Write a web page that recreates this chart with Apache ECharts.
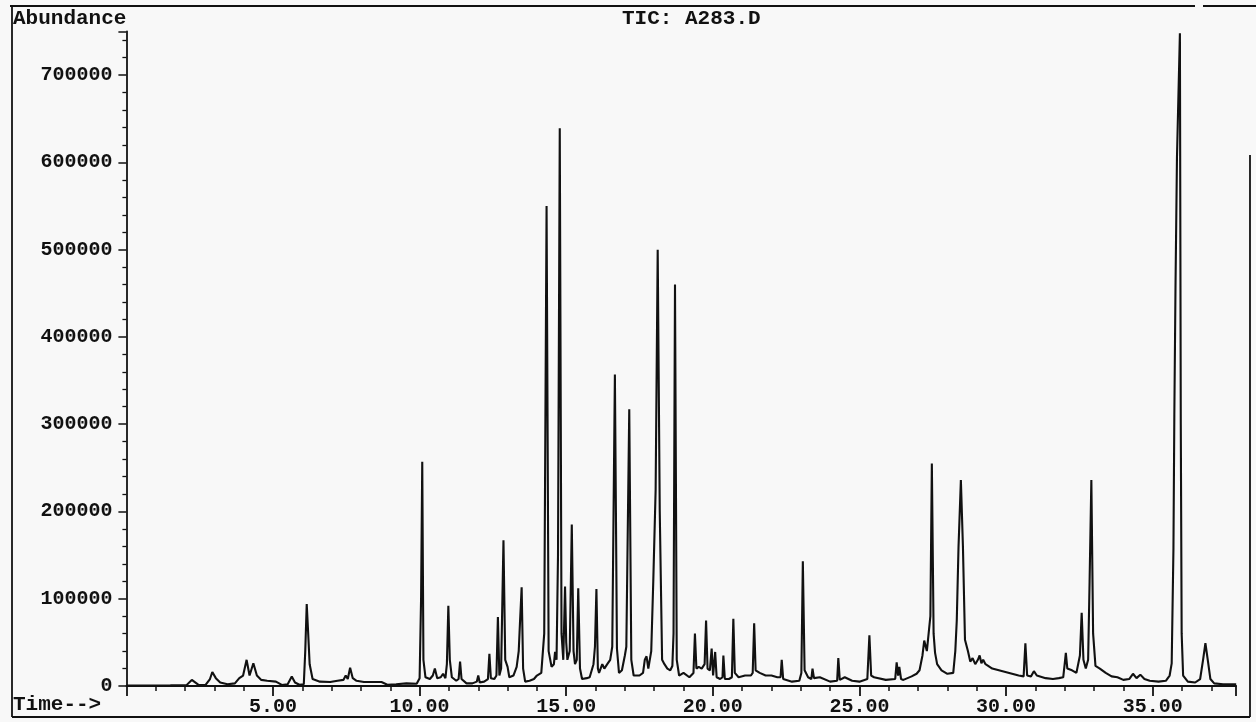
<!DOCTYPE html>
<html>
<head>
<meta charset="utf-8">
<script src="https://cdn.jsdelivr.net/npm/echarts@6/dist/echarts.min.js"></script>
<style>
html,body{margin:0;padding:0;background:#f8f8f8;}
#chart{width:1256px;height:722px;}
</style>
</head>
<body>
<div id="chart"></div>
<script>
// Retention time (minutes)
const times = [
0.00,1.50,2.05,2.23,2.45,2.70,2.85,2.93,3.05,3.20,3.45,3.70,3.85,3.98,4.10,4.20,4.33,4.45,4.60,4.80,
5.10,5.30,5.50,5.64,5.75,5.90,6.05,6.10,6.15,6.20,6.25,6.35,6.60,6.95,7.20,7.40,7.48,7.55,7.63,7.72,
7.85,8.10,8.70,8.90,9.20,9.55,9.90,10.00,10.05,10.09,10.13,10.20,10.35,10.45,10.52,10.60,10.72,10.80,10.88,10.93,
10.98,11.03,11.10,11.25,11.33,11.38,11.43,11.60,11.80,11.95,12.00,12.05,12.20,12.33,12.38,12.43,12.55,12.62,12.67,12.72,
12.78,12.86,12.92,13.00,13.06,13.20,13.31,13.38,13.42,13.48,13.53,13.60,13.75,13.90,14.00,14.15,14.25,14.33,14.40,14.50,
14.58,14.62,14.67,14.72,14.78,14.84,14.90,14.96,15.00,15.04,15.12,15.19,15.25,15.30,15.36,15.41,15.47,15.54,15.70,15.80,
15.93,15.98,16.03,16.08,16.12,16.23,16.30,16.40,16.50,16.57,16.66,16.73,16.80,16.90,17.00,17.05,17.15,17.22,17.30,17.50,
17.62,17.68,17.74,17.80,17.90,17.97,18.05,18.12,18.19,18.27,18.35,18.45,18.55,18.62,18.66,18.71,18.77,18.85,19.00,19.20,
19.34,19.39,19.44,19.52,19.62,19.72,19.77,19.82,19.90,19.96,20.01,20.08,20.13,20.25,20.33,20.36,20.41,20.55,20.65,20.70,
20.75,20.88,21.10,21.30,21.36,21.41,21.46,21.60,21.80,22.00,22.20,22.31,22.35,22.40,22.70,22.95,23.02,23.07,23.13,23.25,
23.36,23.40,23.45,23.65,24.00,24.24,24.28,24.33,24.50,24.75,25.00,25.27,25.34,25.40,25.50,25.90,26.22,26.27,26.32,26.36,
26.42,26.50,26.78,26.95,27.05,27.15,27.21,27.30,27.36,27.42,27.47,27.53,27.58,27.65,27.80,28.00,28.20,28.27,28.32,28.38,
28.46,28.53,28.60,28.70,28.78,28.86,28.95,29.04,29.10,29.16,29.22,29.30,29.53,29.98,30.43,30.60,30.66,30.72,30.85,30.95,
31.05,31.35,31.60,31.80,31.95,32.00,32.04,32.09,32.15,32.25,32.40,32.52,32.58,32.64,32.72,32.80,32.85,32.91,32.97,33.05,
33.20,33.40,33.60,33.80,34.00,34.20,34.33,34.45,34.58,34.72,34.90,35.20,35.45,35.58,35.65,35.71,35.74,35.78,35.83,35.93,
35.96,35.99,36.04,36.20,36.45,36.62,36.72,36.80,36.88,36.97,37.10,37.40,37.85
];
// Total ion current abundance
const abundance = [
500,800,1000,7000,1500,1200,8000,16000,9000,4000,2000,3000,9000,12000,30000,12000,26000,12000,7000,6000,
5000,1200,2000,11000,4000,1500,2000,40000,94000,60000,25000,8000,5000,4500,6000,7000,12000,8000,21000,9000,
6000,4500,4500,1500,2000,3000,2500,9000,100000,257000,30000,10000,8000,12000,20000,9000,10000,14000,9000,25000,
92000,30000,10000,6000,8000,28000,8000,3000,3000,5000,12000,4000,5000,8000,37000,9000,8000,12000,79000,12000,
20000,167000,30000,22000,10000,12000,22000,40000,70000,113000,20000,5000,6000,8000,12000,15000,60000,550000,40000,22000,
25000,39000,30000,150000,639000,60000,30000,114000,50000,30000,40000,185000,40000,25000,30000,112000,20000,8000,9000,10000,
25000,45000,111000,20000,15000,25000,20000,25000,30000,45000,357000,43000,15000,18000,35000,45000,317000,30000,12000,12000,
15000,30000,34000,20000,40000,121000,225000,500000,200000,30000,25000,20000,18000,23000,60000,460000,30000,12000,15000,10000,
15000,60000,20000,22000,20000,25000,75000,20000,18000,43000,12000,39000,10000,8000,10000,35000,8000,8000,10000,77000,
15000,10000,12000,12000,15000,72000,18000,15000,12000,12000,10000,10000,30000,8000,5000,6000,15000,143000,18000,10000,
8000,20000,9000,10000,5000,6000,32000,7000,10000,6000,5000,8000,58000,12000,10000,7000,8000,27000,12000,22000,
8000,7000,11000,14000,18000,35000,52000,40000,38000,80000,255000,60000,38000,25000,18000,14000,15000,40000,75000,160000,
236000,160000,53000,40000,28000,32000,25000,30000,35000,26000,30000,25000,20000,16000,12000,11000,49000,12000,11000,17000,
12000,9000,8000,9000,10000,25000,38000,20000,21000,18000,15000,35000,84000,30000,20000,30000,120000,236000,60000,23000,
20000,15000,11000,10000,7000,8000,14000,9000,13000,8000,6000,5000,6000,12000,26000,158000,310000,458000,606000,748000,
300000,60000,12000,5000,4000,8000,30000,49000,30000,8000,3000,2000,2000
];
// Axis tick values
const xTicks = [5, 10, 15, 20, 25, 30, 35];
const yTicks = [0, 100000, 200000, 300000, 400000, 500000, 600000, 700000];

const seriesData = times.map((t, i) => [t, abundance[i]]);
const FONT = 'Liberation Mono';
const INK = '#111';

const chart = echarts.init(document.getElementById('chart'), null, {renderer: 'canvas'});
chart.setOption({
  backgroundColor: '#f8f8f8',
  animation: false,
  grid: {left: 126.4, right: 19.8, top: 31.5, bottom: 36, containLabel: false},
  xAxis: {
    type: 'value', min: 0, max: 37.85, interval: 5,
    axisLine: {show: true, lineStyle: {color: INK, width: 1.8}},
    axisTick: {show: true, length: 10, lineStyle: {color: INK, width: 1.8}},
    minorTick: {show: true, splitNumber: 5, length: 5, lineStyle: {color: INK, width: 1.5}},
    splitLine: {show: false},
    axisLabel: {
      showMinLabel: false, showMaxLabel: false, margin: 11,
      fontFamily: FONT, fontWeight: 'bold', fontSize: 20, color: INK,
      formatter: v => xTicks.indexOf(v) >= 0 ? v.toFixed(2) : ''
    }
  },
  yAxis: {
    type: 'value', min: 0, max: 750000, interval: 100000,
    axisLine: {show: true, lineStyle: {color: INK, width: 1.8}},
    axisTick: {show: true, length: 8, lineStyle: {color: INK, width: 1.5}},
    minorTick: {show: true, splitNumber: 5, length: 4, lineStyle: {color: INK, width: 1.3}},
    splitLine: {show: false},
    axisLabel: {
      showMaxLabel: false, margin: 14,
      fontFamily: FONT, fontWeight: 'bold', fontSize: 20, color: INK,
      formatter: v => yTicks.indexOf(v) >= 0 ? String(v) : ''
    }
  },
  series: [{
    type: 'line', data: seriesData, showSymbol: false, smooth: false,
    lineStyle: {color: INK, width: 2.1}, z: 3
  }],
  graphic: [
    {type: 'line', shape: {x1: 10, y1: 6, x2: 1195, y2: 6}, style: {stroke: INK, lineWidth: 1.8}},
    {type: 'line', shape: {x1: 1203, y1: 6, x2: 1256, y2: 6}, style: {stroke: INK, lineWidth: 1.8}},
    {type: 'line', shape: {x1: 12, y1: 6, x2: 12, y2: 717}, style: {stroke: INK, lineWidth: 1.8}},
    {type: 'line', shape: {x1: 12, y1: 717, x2: 1250, y2: 717}, style: {stroke: INK, lineWidth: 1.8}},
    {type: 'line', shape: {x1: 1250, y1: 155, x2: 1250, y2: 717}, style: {stroke: INK, lineWidth: 1.8}},
    {type: 'text', left: 13, top: 8, style: {text: 'Abundance', font: 'bold 21px "Liberation Mono"', fill: INK}},
    {type: 'text', left: 622, top: 8, style: {text: 'TIC: A283.D', font: 'bold 21px "Liberation Mono"', fill: INK}},
    {type: 'text', left: 13, top: 694, style: {text: 'Time-->', font: 'bold 21px "Liberation Mono"', fill: INK}}
  ]
});
</script>
</body>
</html>
